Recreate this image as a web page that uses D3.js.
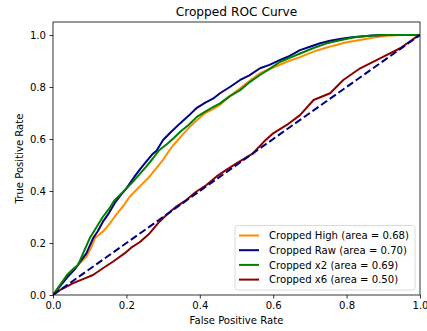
<!DOCTYPE html>
<html>
<head>
<meta charset="utf-8">
<script src="https://cdn.jsdelivr.net/npm/d3@7"></script>
<style>
  html, body { margin: 0; padding: 0; background: #fff; }
  svg { display: block; font-family: "DejaVu Sans", sans-serif; }
</style>
</head>
<body>
<svg id="chart" width="427" height="331"></svg>
<script>
// ROC curves
const seriesNames = ["Cropped High", "Cropped Raw", "Cropped x2", "Cropped x6"];
const seriesAuc = [0.68, 0.70, 0.69, 0.50];
const seriesColors = ["#ff8c00", "#000080", "#008000", "#8b0000"];

const highFpr = [0, 0.02, 0.045, 0.068, 0.091, 0.105, 0.114, 0.136, 0.152, 0.168, 0.19, 0.209, 0.236, 0.263, 0.28, 0.30, 0.313, 0.327, 0.346, 0.37, 0.392, 0.415, 0.436, 0.455, 0.482, 0.51, 0.537, 0.564, 0.60, 0.637, 0.673, 0.71, 0.737, 0.764, 0.80, 0.837, 0.873, 0.91, 0.95, 1.0];
const highTpr = [0, 0.04, 0.083, 0.115, 0.147, 0.185, 0.218, 0.244, 0.27, 0.301, 0.34, 0.378, 0.417, 0.455, 0.485, 0.52, 0.548, 0.575, 0.605, 0.643, 0.672, 0.70, 0.715, 0.731, 0.765, 0.795, 0.825, 0.853, 0.875, 0.897, 0.915, 0.936, 0.948, 0.959, 0.972, 0.981, 0.99, 0.997, 1.0, 1.0];

const rawFpr = [0, 0.02, 0.04, 0.06, 0.075, 0.091, 0.109, 0.122, 0.136, 0.15, 0.168, 0.185, 0.20, 0.222, 0.238, 0.254, 0.27, 0.282, 0.30, 0.32, 0.346, 0.37, 0.392, 0.415, 0.436, 0.455, 0.482, 0.51, 0.535, 0.564, 0.59, 0.619, 0.645, 0.673, 0.70, 0.728, 0.755, 0.782, 0.81, 0.837, 0.87, 0.91, 0.95, 1.0];
const rawTpr = [0, 0.035, 0.07, 0.10, 0.13, 0.16, 0.218, 0.245, 0.282, 0.31, 0.353, 0.385, 0.41, 0.455, 0.485, 0.513, 0.54, 0.555, 0.596, 0.625, 0.66, 0.69, 0.72, 0.74, 0.755, 0.776, 0.80, 0.827, 0.845, 0.872, 0.885, 0.904, 0.92, 0.942, 0.955, 0.968, 0.978, 0.985, 0.99, 0.994, 0.998, 1.0, 1.0, 1.0];

const x2Fpr = [0, 0.02, 0.04, 0.055, 0.068, 0.085, 0.10, 0.118, 0.136, 0.152, 0.168, 0.19, 0.218, 0.236, 0.254, 0.272, 0.29, 0.31, 0.33, 0.346, 0.37, 0.392, 0.415, 0.436, 0.455, 0.482, 0.51, 0.537, 0.564, 0.59, 0.619, 0.645, 0.673, 0.71, 0.746, 0.782, 0.818, 0.855, 0.891, 0.95, 1.0];
const x2Tpr = [0, 0.04, 0.08, 0.10, 0.115, 0.17, 0.218, 0.26, 0.301, 0.33, 0.365, 0.395, 0.436, 0.465, 0.494, 0.525, 0.558, 0.58, 0.605, 0.627, 0.655, 0.685, 0.705, 0.723, 0.737, 0.765, 0.788, 0.82, 0.846, 0.87, 0.897, 0.912, 0.929, 0.95, 0.968, 0.98, 0.99, 0.996, 1.0, 1.0, 1.0];

const x6Fpr = [0, 0.02, 0.054, 0.08, 0.109, 0.136, 0.163, 0.195, 0.213, 0.236, 0.263, 0.29, 0.309, 0.336, 0.363, 0.39, 0.418, 0.445, 0.472, 0.50, 0.545, 0.575, 0.60, 0.637, 0.673, 0.71, 0.755, 0.791, 0.837, 0.891, 0.946, 0.991, 1.0];
const x6Tpr = [0, 0.02, 0.045, 0.06, 0.077, 0.103, 0.128, 0.16, 0.182, 0.203, 0.237, 0.282, 0.308, 0.34, 0.365, 0.397, 0.423, 0.455, 0.481, 0.506, 0.545, 0.59, 0.622, 0.654, 0.692, 0.75, 0.776, 0.827, 0.872, 0.91, 0.949, 0.994, 1.0];

const diagFpr = [0, 1];
const diagTpr = [0, 1];

const xTicks = [0, 0.2, 0.4, 0.6, 0.8, 1.0];
const yTicks = [0, 0.2, 0.4, 0.6, 0.8, 1.0];

const seriesFpr = [highFpr, rawFpr, x2Fpr, x6Fpr];
const seriesTpr = [highTpr, rawTpr, x2Tpr, x6Tpr];

const svg = d3.select("#chart");
const margin = { left: 53, right: 7, top: 22, bottom: 36 };
const W = 427, H = 331;
const fs = "10.1px";

const x = d3.scaleLinear().domain([0, 1]).range([margin.left, W - margin.right]);
const y = d3.scaleLinear().domain([0, 1.05]).range([H - margin.bottom, margin.top]);

const line = d3.line().x(d => x(d[0])).y(d => y(d[1]));

svg.append("defs").append("clipPath").attr("id", "clip")
  .append("rect")
  .attr("x", x(0)).attr("y", y(1.05))
  .attr("width", x(1) - x(0)).attr("height", y(0) - y(1.05));

const curves = svg.append("g").attr("clip-path", "url(#clip)");
seriesNames.forEach((name, i) => {
  const pts = seriesFpr[i].map((f, j) => [f, seriesTpr[i][j]]);
  curves.append("path")
    .datum(pts)
    .attr("d", line)
    .attr("fill", "none")
    .attr("stroke", seriesColors[i])
    .attr("stroke-width", 2)
    .attr("stroke-linejoin", "round");
});
curves.append("path")
  .datum(diagFpr.map((f, j) => [f, diagTpr[j]]))
  .attr("d", line)
  .attr("fill", "none")
  .attr("stroke", "#000080")
  .attr("stroke-width", 2)
  .attr("stroke-dasharray", "7.4,3.2");

// axes
const xAxis = d3.axisBottom(x).tickValues(xTicks).tickFormat(d3.format(".1f")).tickSize(3.5).tickPadding(3.5);
const yAxis = d3.axisLeft(y).tickValues(yTicks).tickFormat(d3.format(".1f")).tickSize(3.5).tickPadding(3.5);

const gx = svg.append("g").attr("transform", `translate(0,${y(0)})`).call(xAxis);
const gy = svg.append("g").attr("transform", `translate(${x(0)},0)`).call(yAxis);
[gx, gy].forEach(g => {
  g.select(".domain").remove();
  g.selectAll(".tick line").attr("stroke", "#000").attr("stroke-width", 0.8);
  g.selectAll(".tick text").attr("fill", "#000").style("font-size", fs).style("font-family", "DejaVu Sans");
});

// frame
svg.append("rect")
  .attr("x", x(0)).attr("y", y(1.05))
  .attr("width", x(1) - x(0)).attr("height", y(0) - y(1.05))
  .attr("fill", "none").attr("stroke", "#000").attr("stroke-width", 0.8);

// labels
svg.append("text")
  .attr("x", (x(0) + x(1)) / 2).attr("y", 15.5)
  .attr("text-anchor", "middle").style("font-size", "12.2px")
  .text("Cropped ROC Curve");
svg.append("text")
  .attr("x", (x(0) + x(1)) / 2).attr("y", 324)
  .attr("text-anchor", "middle").style("font-size", fs)
  .text("False Positive Rate");
svg.append("text")
  .attr("transform", `translate(22.5,${(y(0) + y(1.05)) / 2}) rotate(-90)`)
  .attr("text-anchor", "middle").style("font-size", fs)
  .text("True Positive Rate");

// legend
const lg = svg.append("g").attr("transform", "translate(235,225.5)");
lg.append("rect")
  .attr("x", 0).attr("y", 0).attr("width", 180).attr("height", 64.5)
  .attr("rx", 2.5).attr("fill", "#fff").attr("fill-opacity", 0.8)
  .attr("stroke", "#d0d0d0").attr("stroke-width", 0.8);
seriesNames.forEach((name, i) => {
  const row = lg.append("g").attr("transform", `translate(0,${10 + i * 14.7})`);
  row.append("line")
    .attr("x1", 4).attr("x2", 24).attr("y1", 0).attr("y2", 0)
    .attr("stroke", seriesColors[i]).attr("stroke-width", 2);
  row.append("text")
    .attr("x", 34).attr("y", 3.6).style("font-size", fs)
    .text(`${name} (area = ${seriesAuc[i].toFixed(2)})`);
});
</script>
</body>
</html>
